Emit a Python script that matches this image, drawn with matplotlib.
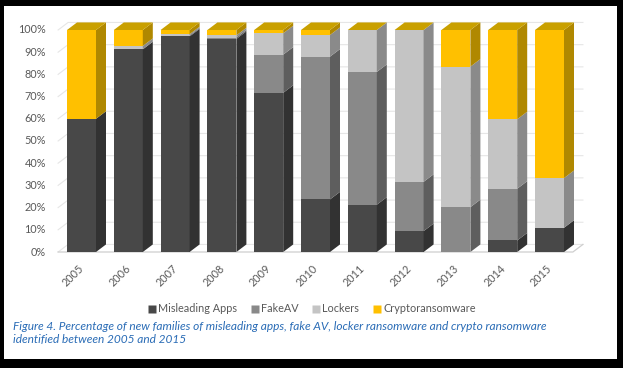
import matplotlib
matplotlib.use("Agg")
import matplotlib.pyplot as plt
from matplotlib.patches import Polygon, Rectangle
from matplotlib.lines import Line2D
import numpy as np

plt.rcParams['font.family'] = ['Lato', 'DejaVu Sans']

years = ["2005", "2006", "2007", "2008", "2009", "2010", "2011", "2012", "2013", "2014", "2015"]
misleading = [60, 91.3, 97.1, 96, 71.7, 23.7, 21.3, 9.4, 0, 5.2, 10.9]
fakeav = [0, 0, 0.4, 0.6, 17.2, 64.3, 59.8, 22.2, 20.2, 23.3, 0]
lockers = [0, 1.5, 0.6, 1.0, 9.6, 9.75, 18.9, 68.4, 63.3, 31.3, 22.4]
crypto = [40, 7.2, 1.9, 2.4, 1.5, 2.25, 0, 0, 16.5, 40.2, 66.7]
series_names = ["Misleading Apps", "FakeAV", "Lockers", "Cryptoransomware"]
yticks = [0, 10, 20, 30, 40, 50, 60, 70, 80, 90, 100]

front_cols = ["#484848", "#898989", "#c4c4c4", "#ffc000"]
side_cols = ["#323232", "#5e5e5e", "#8a8a8a", "#b08800"]
top_col = "#c9a000"

W, H = 623, 368
fig = plt.figure(figsize=(W / 100, H / 100), dpi=100, facecolor="black")
# white inner panel
bg = fig.add_axes([4 / W, 9 / H, (617 - 4) / W, (359 - 6) / H], zorder=-5)
bg.set_facecolor("white")
bg.set_xticks([]); bg.set_yticks([])
for s in bg.spines.values():
    s.set_visible(False)

# axes placement in pixels
px_per_cat = 46.8
x0_px = 81.5
px_per_pct = 2.22
y0_px_top = 252
xl, xr = -1.0, 11.0
yb, yt = -12, 110
left = (x0_px + xl * px_per_cat) / W
width = (xr - xl) * px_per_cat / W
bottom = (H - (y0_px_top - yb * px_per_pct)) / H
height = (yt - yb) * px_per_pct / H
ax = fig.add_axes([left, bottom, width, height], zorder=1)
ax.set_xlim(xl, xr)
ax.set_ylim(yb, yt)
ax.axis("off")

dx = 10 / px_per_cat
dy = 3.4
bw = 29 / px_per_cat
gx0, gx1 = -0.5, 10.5

# gridlines on back wall
for t in yticks[1:]:
    ax.plot([gx0, gx0 + dx, gx1 + dx], [t, t + dy, t + dy], color="#e6e6e6", lw=0.8, zorder=1)
# floor
ax.plot([gx0, gx0 + dx, gx1 + dx], [0, dy, dy], color="#e6e6e6", lw=0.8, zorder=1)
ax.plot([gx0, gx1, gx1 + dx], [0, 0, dy], color="#cfcfcf", lw=0.9, zorder=1)

# tick labels
for t in yticks:
    ax.text(-0.76, t, f"{t}%", ha="right", va="center", fontsize=7.8, color="#595959")
for i, yr in enumerate(years):
    ax.text(i + 0.1, -5.0, yr, rotation=45, ha="right", va="top", fontsize=7.8, color="#595959")

data = [misleading, fakeav, lockers, crypto]
x = np.arange(len(years))
bottoms = np.zeros(len(years))
for k, vals in enumerate(data):
    vals = np.array(vals, dtype=float)
    ax.bar(x, vals, width=bw, bottom=bottoms, color=front_cols[k], zorder=3, linewidth=0)
    for i in range(len(years)):
        if vals[i] <= 0:
            continue
        xr_ = x[i] + bw / 2
        y0 = bottoms[i]
        y1 = bottoms[i] + vals[i]
        ax.add_patch(Polygon([(xr_, y0), (xr_ + dx, y0 + dy), (xr_ + dx, y1 + dy), (xr_, y1)],
                             closed=True, facecolor=side_cols[k], edgecolor="none", zorder=3))
    bottoms = bottoms + vals

# top faces
for i in range(len(years)):
    xl_ = x[i] - bw / 2
    xr_ = x[i] + bw / 2
    t = bottoms[i]
    ax.add_patch(Polygon([(xl_, t), (xl_ + dx, t + dy), (xr_ + dx, t + dy), (xr_, t)],
                         closed=True, facecolor=top_col, edgecolor="none", zorder=4))

handles = [Line2D([0], [0], marker="s", linestyle="none", markersize=6,
                  markerfacecolor=c, markeredgecolor="none") for c in front_cols]
fig.legend(handles, series_names, loc="center", bbox_to_anchor=(0.5, 1 - 309 / H),
           ncol=4, frameon=False, fontsize=7.8, labelcolor="#595959",
           handletextpad=0.2, columnspacing=1.2, handlelength=0.8)

cap_col = "#2a6cb6"
fig.text(13 / W, 1 - 327 / H,
         "Figure 4. Percentage of new families of misleading apps, fake AV, locker ransomware and crypto ransomware",
         ha="left", va="center", fontsize=8.6, style="italic", color=cap_col)
fig.text(13 / W, 1 - 339.5 / H, "identified between 2005 and 2015",
         ha="left", va="center", fontsize=8.6, style="italic", color=cap_col)

fig.savefig("out.png", dpi=100, facecolor=fig.get_facecolor())
